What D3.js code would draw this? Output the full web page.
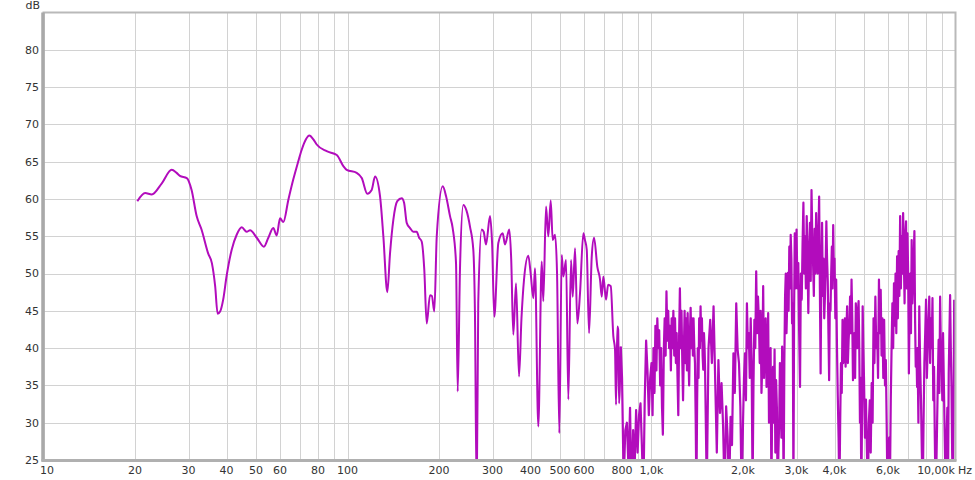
<!DOCTYPE html>
<html>
<head>
<meta charset="utf-8">
<script src="https://cdn.jsdelivr.net/npm/d3@7"></script>
<style>
  html, body { margin: 0; padding: 0; background: #fff; }
  svg { display: block; }
  text { font-family: "DejaVu Sans", "Noto Sans", sans-serif; font-size: 11px; fill: #333; }
</style>
</head>
<body>
<svg id="chart" width="975" height="480"></svg>
<script>
// ---------- data ----------
// low / mid frequency part (smooth response)
const freqLowHz = [
  20.35, 21.6, 22.7, 24.5, 26.4, 27.4, 28.1, 29.6, 30.7, 31.9, 33.1, 34.8, 35.8, 36.7, 37.4, 38.1, 39.0, 40.0,
  41.6, 43.2, 44.9, 46.6, 47.8, 50.3, 53.1, 54.9, 57.0, 58.5, 60.0, 61.5, 63.9, 66.3, 68.6, 70.7, 73.0, 74.9,
  77.2, 79.2, 85.4, 92.2, 96.9, 99.4, 107.2, 111.4, 116.2, 120.1, 123.2, 127.9, 131.2, 135.2, 138.0, 141.5,
  145.8, 150.8, 153.5, 156.6, 160.6, 164.6, 168.9, 172.0, 175.4, 178.9, 182.2, 186.8, 189.5, 193.0, 196.6,
  205.7, 210.9, 217.4, 221.8, 227.5, 230.4, 234.4, 240.4, 246.0, 252.9, 259.3, 262.5, 266.1, 269.2, 276.3,
  280.5, 285.5, 294.3, 299.0, 304.0, 313.4, 324.0, 329.6, 340.6, 345.5, 351.1, 358.4, 366.6, 373.5, 380.8,
  393.3, 400.5, 408.5, 413.8, 424.3, 435.4, 440.7, 449.8, 457.7, 466.1, 473.2, 481.6, 489.0, 497.5, 506.7,
  512.9, 523.5, 532.6, 543.6, 550.7, 560.4, 570.2, 582.0, 596.8, 604.0, 612.3, 623.1, 636.0, 647.2, 663.5,
  677.2, 686.0, 694.3, 708.7, 720.0, 734.4, 748.9, 758.6, 764.4, 772.0, 777.0, 782.0, 792.1
];
const levelLowDb = [
  59.7, 60.8, 60.6, 62.1, 63.9, 63.5, 63.1, 62.8, 61.2, 57.7, 55.9, 52.7, 51.4, 48.3, 44.6, 44.9, 46.5, 49.6,
  53.2, 55.2, 56.2, 55.6, 55.8, 54.8, 53.6, 54.8, 56.1, 55.1, 57.4, 56.9, 59.9, 62.6, 64.8, 66.6, 68.0, 68.5,
  68.0, 67.3, 66.4, 65.9, 64.4, 63.9, 63.5, 62.8, 60.7, 61.2, 63.0, 60.4, 55.0, 47.5, 52.7, 57.2,
  59.7, 60.1, 59.5, 56.8, 56.1, 55.6, 55.6, 54.8, 54.3, 50.5, 43.3, 47.1, 47.0, 44.9, 55.0,
  61.7, 60.4, 57.7, 56.1, 51.4, 34.2, 50.5, 59.2, 58.5, 56.3, 53.2, 45.0, 20.0, 46.0, 55.9,
  55.6, 53.9, 57.7, 54.0, 44.2, 54.1, 55.4, 53.9, 55.9, 52.0, 41.8, 48.7, 36.2, 44.0, 49.2,
  52.4, 50.0, 46.7, 50.7, 29.5, 51.6, 46.3, 59.0, 55.0, 59.8, 54.5, 55.2, 50.0, 28.6, 52.5,
  49.6, 51.8, 33.1, 51.8, 46.9, 53.4, 43.3, 47.4, 55.4, 54.5, 53.2, 42.0, 52.3, 54.8, 50.9,
  49.2, 46.9, 49.6, 46.5, 48.5, 48.3, 41.6, 39.8, 32.4, 42.9, 42.5, 32.6, 40.2
];
// high frequency part (dense, noisy response)
const freqHighHz = [
  792.1,
  800, 810, 820, 830, 840, 850, 860, 870, 880, 890, 900, 910, 920, 930, 940, 950, 960, 970, 980, 990,
  1000, 1008, 1015, 1023, 1030, 1038, 1045, 1053, 1060, 1068, 1075, 1083, 1090, 1098, 1105, 1113, 1120,
  1128, 1135, 1143, 1150, 1158, 1165, 1173, 1180, 1188, 1195, 1203, 1210, 1218, 1225, 1233, 1240, 1248,
  1255, 1263, 1270, 1278, 1285, 1293, 1300, 1308, 1315, 1323, 1330, 1338, 1345, 1353, 1360, 1368, 1375,
  1383, 1390, 1398, 1405, 1413, 1420, 1428, 1435, 1443, 1450, 1458, 1465, 1473, 1480, 1488, 1495,
  1500, 1520, 1540, 1560, 1580, 1600, 1620, 1640, 1660, 1680, 1700, 1720, 1740, 1760, 1780, 1800, 1820,
  1840, 1860, 1880, 1900, 1920, 1940, 1960, 1980,
  2000, 2015, 2030, 2045, 2060, 2075, 2090, 2105, 2120, 2135, 2150, 2165, 2180, 2195, 2210, 2225, 2240,
  2255, 2270, 2285, 2300, 2315, 2330, 2345, 2360, 2375, 2390, 2405, 2420, 2435, 2450, 2465, 2480, 2495,
  2510, 2525, 2540, 2555, 2570, 2585, 2600, 2615, 2630, 2645, 2660, 2675, 2690, 2705, 2720, 2735, 2750,
  2765, 2780, 2795, 2810, 2825, 2840, 2855, 2870, 2885, 2900, 2915, 2930, 2945, 2960, 2975, 2990,
  3000, 3020, 3040, 3060, 3080, 3100, 3120, 3140, 3160, 3180, 3200, 3220, 3240, 3260, 3280, 3300, 3320,
  3340, 3360, 3380, 3400, 3420, 3440, 3460, 3480, 3500, 3520, 3540, 3560, 3580, 3600, 3620, 3640, 3660,
  3680, 3700, 3720, 3740, 3760, 3780, 3800, 3820, 3840, 3860, 3880, 3900, 3920, 3940, 3960, 3980,
  4000, 4025, 4050, 4075, 4100, 4125, 4150, 4175, 4200, 4225, 4250, 4275, 4300, 4325, 4350, 4375, 4400, 4425, 4450, 4475,
  4500, 4525, 4550, 4575, 4600, 4625, 4650, 4675, 4700, 4725, 4750, 4775, 4800, 4825, 4850, 4875, 4900, 4925, 4950, 4975,
  5000, 5037, 5075, 5112, 5150, 5187, 5225, 5262, 5300, 5337, 5375, 5412, 5450, 5487, 5525, 5562,
  5600, 5637, 5675, 5712, 5750, 5787, 5825, 5862, 5900, 5937, 5975, 6012, 6050, 6087, 6125, 6162,
  6200, 6237, 6275, 6312, 6350, 6387, 6425, 6462, 6500, 6537, 6575, 6612, 6650, 6687, 6725, 6762, 6800,
  6837, 6875, 6912, 6950, 6987, 7025, 7062, 7100, 7137, 7175, 7212, 7250, 7287, 7325, 7362, 7400, 7437, 7475,
  7500, 7550, 7600, 7650, 7700, 7750, 7800, 7850, 7900, 7950, 8000, 8050, 8100, 8150, 8200, 8250, 8300,
  8350, 8400, 8450, 8500, 8550, 8600, 8650, 8700, 8750, 8800, 8850, 8900, 8950, 9000, 9050, 9100,
  9150, 9200, 9250, 9300, 9350, 9400, 9450, 9500, 9550, 9600, 9650, 9700, 9750, 9800, 9850, 9900
];
const levelHighDb = [
  40.2,
  36, 22, 29, 30, 24, 32, 20, 29, 24, 31.7, 26, 31, 32.6, 26.8, 20, 33, 41, 37, 31, 36,
  38, 31, 40, 34, 43, 37, 44, 40, 42.4, 35, 40, 32, 28.4, 40, 44, 39, 47.6,
  41, 45, 40, 43, 37, 44, 40, 45, 39, 44, 38, 42, 36, 31, 42, 48, 40,
  45, 38, 33, 40, 45, 38, 44, 37, 44.7, 39, 35, 42, 45.4, 40, 44, 39, 44,
  40, 38, 30, 20, 33, 40, 36, 44, 40, 45.6, 41, 44, 39, 37.1, 42, 40,
  37.5, 21, 40, 43.8, 38, 45.6, 35.7, 26, 38.4, 31.3, 35.3, 29.5, 20, 32.2, 28.1, 20, 30.8,
  27, 39.3, 34, 46.0, 39.8, 38.0, 32.2, 20,
  30, 36, 39.3, 33, 46, 40, 42, 36, 44, 38, 21, 35, 43.8, 40, 50.3, 42, 46.9,
  44, 38, 45, 34, 38, 48.3, 36, 41.1, 44, 34.8, 38, 44.7, 30, 37, 40, 20, 33,
  37.5, 30, 39.8, 26, 35.7, 32, 20, 26, 30, 38, 33.5, 28, 40.2, 34, 21, 38, 46.9,
  50, 42, 46, 50.1, 45, 53.6, 48, 55.2, 52, 43.3, 46, 20, 45, 55.4, 48, 51,
  55.9, 48, 51.4, 42, 34.8, 50, 46.5, 54, 59.5, 50, 55, 48, 57.7, 52, 44.7, 53, 56.8,
  49, 61.2, 55, 51.4, 47, 56, 50, 58.1, 53, 50, 55, 60.3, 48, 36.6, 50, 56.8, 47,
  52, 44, 46.9, 51, 57.0, 52, 49, 42, 35.7, 46, 45, 50, 53.6, 48, 56.5, 50,
  52, 44, 49.2, 40, 33.5, 28, 20, 30, 38, 34, 43.8, 38, 40, 44, 37.5, 42, 45.6, 38, 41, 43,
  46.9, 42, 49.2, 44, 35.7, 40, 42, 36, 46.0, 43, 40, 45, 46.3, 40, 30, 36, 20, 30, 45.6, 40,
  36, 28, 33.1, 26, 20, 30, 33, 26, 35.3, 30, 44, 38, 46.9, 40, 42, 36,
  49.2, 42, 47.8, 39, 44, 36, 43.8, 35, 38.4, 30, 20, 24, 28, 22, 33.1, 40,
  46, 40, 48.7, 43, 50, 42, 52.3, 44, 53, 47, 57.7, 48, 55, 50, 58.1, 52, 46,
  55, 57.0, 48, 55.4, 50, 36.6, 45, 50, 42, 54.5, 46, 48.7, 52, 55.7, 44, 37.5, 40, 34.8,
  40, 30, 45.6, 38, 33, 26, 20, 30, 38, 42, 46.5, 36, 40, 44, 46.9, 38, 44,
  40, 46.7, 33, 37.5, 28, 20, 24, 30, 36, 41.1, 34, 46.9, 40, 38, 33, 42.0,
  36, 30, 24, 20, 28, 32, 22, 36.6, 42, 47.1, 40, 35, 26, 20, 30, 46.5
];
const yTicks = [25, 30, 35, 40, 45, 50, 55, 60, 65, 70, 75, 80];
const xGridFreqs = [20, 30, 40, 50, 60, 70, 80, 90, 100, 200, 300, 400, 500, 600, 700, 800, 900,
  1000, 2000, 3000, 4000, 5000, 6000, 7000, 8000, 9000];
const xTickFreqs = [10, 20, 30, 40, 50, 60, 80, 100, 200, 300, 400, 500, 600, 800, 1000, 2000, 3000, 4000, 6000, 10000];
const xTickLabels = ["10", "20", "30", "40", "50", "60", "80", "100", "200", "300", "400", "500", "600", "800",
  "1,0k", "2,0k", "3,0k", "4,0k", "6,0k", "10,00k"];

// ---------- layout ----------
const pL = 43.5, pR = 955.5, pT = 12.5, pB = 460;
const svg = d3.select("#chart");
const x = d3.scaleLog().domain([10, 10000]).range([pL, pR]);
const y = d3.scaleLinear().domain([25, 85]).range([pB, pT]);

// grid
const grid = svg.append("g");
grid.selectAll("line.h").data(yTicks.filter(d => d > 25)).join("line")
  .attr("x1", pL).attr("x2", pR)
  .attr("y1", d => Math.round(y(d)) + 0.5).attr("y2", d => Math.round(y(d)) + 0.5)
  .attr("stroke", "#d2d2d2").attr("stroke-width", 1);
grid.selectAll("line.v").data(xGridFreqs).join("line")
  .attr("x1", d => Math.round(x(d)) + 0.5).attr("x2", d => Math.round(x(d)) + 0.5)
  .attr("y1", pT).attr("y2", pB)
  .attr("stroke", "#d2d2d2").attr("stroke-width", 1);

// clip
svg.append("clipPath").attr("id", "plotclip").append("rect")
  .attr("x", pL).attr("y", pT).attr("width", pR - pL).attr("height", pB - pT);

// response line
const lowPts = freqLowHz.map((f, i) => [f, levelLowDb[i]]);
const highPts = freqHighHz.map((f, i) => [f, levelHighDb[i]]);
const lineSmooth = d3.line().x(d => x(d[0])).y(d => y(d[1])).curve(d3.curveMonotoneX);
const lineSharp = d3.line().x(d => x(d[0])).y(d => y(d[1]));
const lineColor = "#b20cbc";
svg.append("path").datum(lowPts)
  .attr("clip-path", "url(#plotclip)")
  .attr("fill", "none").attr("stroke", lineColor).attr("stroke-width", 2)
  .attr("stroke-linejoin", "round").attr("d", lineSmooth);
svg.append("path").datum(highPts)
  .attr("clip-path", "url(#plotclip)")
  .attr("fill", "none").attr("stroke", lineColor).attr("stroke-width", 2.2)
  .attr("stroke-linejoin", "round").attr("d", lineSharp);

// frame
svg.append("rect").attr("x", pL).attr("y", pT).attr("width", pR - pL).attr("height", pB - pT)
  .attr("fill", "none").attr("stroke", "#b9b9b9").attr("stroke-width", 2);
svg.append("line").attr("x1", pL - 0.5).attr("x2", pL - 0.5).attr("y1", pT).attr("y2", pB + 1.5)
  .attr("stroke", "#a9a9a9").attr("stroke-width", 3.5);
svg.append("line").attr("x1", pL - 2).attr("x2", pR + 1).attr("y1", pB + 0.5).attr("y2", pB + 0.5)
  .attr("stroke", "#b0b0b0").attr("stroke-width", 3);

// y labels
svg.append("g").selectAll("text").data(yTicks).join("text")
  .attr("x", 39).attr("y", d => y(d)).attr("dy", "0.35em")
  .attr("text-anchor", "end").text(d => d);
svg.append("text").attr("x", 40).attr("y", 5).attr("dy", "0.35em").attr("text-anchor", "end").text("dB");

// x labels
svg.append("g").selectAll("text").data(xTickFreqs).join("text")
  .attr("x", (d, i) => i === 0 ? 40 : (i === xTickFreqs.length - 1 ? 955 : x(d)))
  .attr("y", 470).attr("dy", "0.35em")
  .attr("text-anchor", (d, i) => i === 0 ? "start" : (i === xTickFreqs.length - 1 ? "end" : "middle"))
  .text((d, i) => xTickLabels[i]);
svg.append("text").attr("x", 958).attr("y", 470).attr("dy", "0.35em").text("Hz");
</script>
</body>
</html>
